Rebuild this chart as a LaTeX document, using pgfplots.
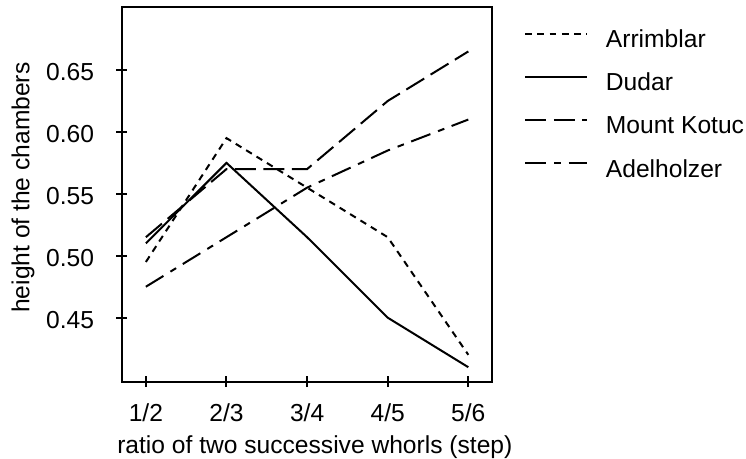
\documentclass[border=0pt]{standalone}
\usepackage{fontspec}
\setmainfont{Liberation Sans}
\usepackage{pgfplots}
\pgfplotsset{compat=1.18}

\begin{document}
\begin{tikzpicture}
\useasboundingbox (-60.85bp,-38.65bp) rectangle (312.15bp,190.85bp);
\begin{axis}[
    at={(0,0)}, anchor=south west,
    scale only axis,
    width=185bp, height=187.35bp,
    font=\fontsize{12.3bp}{15bp}\selectfont,
    axis line style={line width=1bp},
    xmin=-0.30, xmax=4.29,
    ymin=0.3983, ymax=0.7009,
    xtick={0,1,2,3,4},
    xticklabels={1/2,2/3,3/4,4/5,5/6},
    ytick={0.45,0.50,0.55,0.60,0.65},
    /pgf/number format/fixed,
    /pgf/number format/fixed zerofill,
    /pgf/number format/precision=2,
    /pgf/number format/assume math mode=true,
    xtick pos=bottom, ytick pos=left,
    tick align=center,
    major tick length=5.5bp,
    every tick/.style={black, line width=1bp},
    xticklabel style={anchor=base, inner sep=0pt, yshift=-17bp},
    yticklabel style={anchor=east, inner sep=0pt, xshift=-10.85bp, yshift=-1bp},
    xlabel={ratio of two successive whorls (step)},
    ylabel={height of the chambers},
    xlabel style={at={(axis description cs:0.522,-0.1905)}, anchor=base, inner sep=0pt},
    ylabel style={at={(axis description cs:-0.267,0.518)}, anchor=center, inner sep=0pt},
    legend image code/.code={\draw[#1] (0bp,3.6bp) -- (30.85bp,3.6bp);},
    legend cell align=left,
    legend style={draw=none, fill=none, inner sep=0pt, outer sep=0pt,
        at={(axis description cs:1.088,0.94)}, anchor=north west,
        column sep=9bp, row sep=10.1bp,
        nodes={inner sep=0pt, text height=9bp, text depth=2.5bp}},
    every axis plot/.append style={line width=1bp, black},
]
% Arrimblar
\addplot[dash pattern=on 3.35bp off 2.75bp] coordinates {(0,0.495)(1,0.595)(2,0.555)(3,0.515)(4,0.420)};
\addlegendentry{Arrimblar}
% Dudar
\addplot[solid] coordinates {(0,0.510)(1,0.575)(2,0.515)(3,0.450)(4,0.410)};
\addlegendentry{Dudar}
% Mount Kotuc
\addplot[dash pattern=on 10.5bp off 3.75bp] coordinates {(0,0.515)(1,0.570)(2,0.570)(3,0.625)(4,0.665)};
\addlegendentry{Mount Kotuc}
% Adelholzer
\addplot[dash pattern=on 10.3bp off 4.1bp on 3.35bp off 3.9bp] coordinates {(0,0.475)(1,0.515)(2,0.555)(3,0.585)(4,0.610)};
\addlegendentry{Adelholzer}
\end{axis}
\end{tikzpicture}
\end{document}
